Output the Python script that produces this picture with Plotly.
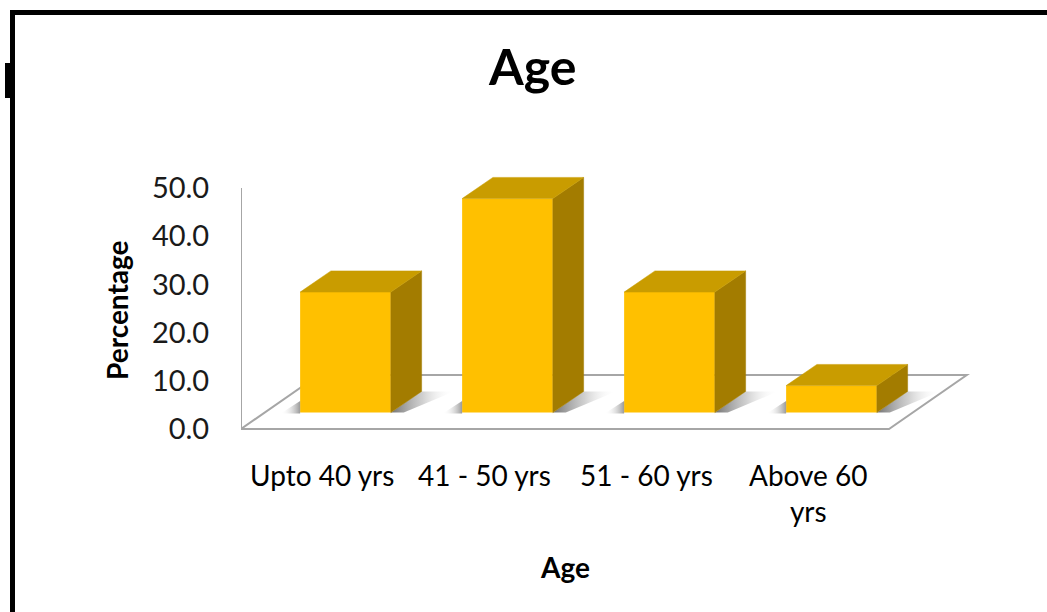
import plotly.graph_objects as go

# ---------------- data ----------------
categories = ["Upto 40 yrs", "41 - 50 yrs", "51 - 60 yrs", "Above 60 yrs"]
category_display = ["Upto 40 yrs", "41 - 50 yrs", "51 - 60 yrs", "Above 60<br>yrs"]
percentages = [25.0, 44.4, 25.0, 5.6]
y_tick_values = [0, 10, 20, 30, 40, 50]
y_tick_labels = [f"{v:.1f}" for v in y_tick_values]
chart_title = "Age"
x_title = "Age"
y_title = "Percentage"

# ---------------- styling / pseudo-3D geometry ----------------
FRONT = "#FFC000"
TOP = "#C99C00"
SIDE = "#A37C00"
FLOOR_LINE = "#A6A6A6"
FONT = "Lato"

W, H = 1047, 612
ML, MR, MT, MB = 241, 47, 150, 130
PW, PH = W - ML - MR, H - MT - MB
PX_PER_X = 162.0
PX_PER_Y = 4.82
x0_range = -0.5
x1_range = x0_range + PW / PX_PER_X
y0_range = (429 - (H - MB)) / PX_PER_Y
y1_range = (429 - MT) / PX_PER_Y

floor_dx, floor_dy = 0.48, 11.2     # floor depth
bar_dx, bar_dy = 0.19, 4.4          # bar depth
bar_base = 3.4                      # front face sits partway into the floor
bar_shift = 0.145
bar_width = 0.56
n = len(categories)

fig = go.Figure()

centers = [i + bar_shift for i in range(n)]

# front faces
fig.add_trace(go.Bar(x=centers, y=percentages, base=[bar_base] * n,
                     width=bar_width, marker=dict(color=FRONT, line=dict(width=0)),
                     hoverinfo="skip"))

# soft shadows on the floor (to the right of each bar's side face)
for c in centers:
    xl, xr = c - bar_width / 2, c + bar_width / 2
    sw = 0.2
    fig.add_trace(go.Scatter(
        x=[xr, xr + bar_dx, xr + bar_dx + sw, xr + sw * 0.4, xr],
        y=[bar_base, bar_base + bar_dy, bar_base + bar_dy, bar_base, bar_base],
        mode="lines", fill="toself", line=dict(width=0),
        fillgradient=dict(type="horizontal",
                          colorscale=[[0, "rgba(90,90,90,0.85)"],
                                      [0.5, "rgba(150,150,150,0.45)"],
                                      [1, "rgba(255,255,255,0)"]]),
        hoverinfo="skip"))
    fig.add_trace(go.Scatter(
        x=[xl - 0.12, xl, xl, xl - 0.12],
        y=[bar_base - 0.2, bar_base - 0.2, bar_base + 2.4, bar_base - 0.2],
        mode="lines", fill="toself", line=dict(width=0),
        fillgradient=dict(type="horizontal",
                          colorscale=[[0, "rgba(255,255,255,0)"],
                                      [1, "rgba(110,110,110,0.7)"]]),
        hoverinfo="skip"))

# side and top faces
for c, v in zip(centers, percentages):
    xl, xr = c - bar_width / 2, c + bar_width / 2
    top = bar_base + v
    fig.add_trace(go.Scatter(
        x=[xr, xr + bar_dx, xr + bar_dx, xr, xr],
        y=[bar_base, bar_base + bar_dy, top + bar_dy, top, bar_base],
        mode="lines", fill="toself", fillcolor=SIDE,
        line=dict(width=0.5, color=SIDE), hoverinfo="skip"))
    fig.add_trace(go.Scatter(
        x=[xl, xr, xr + bar_dx, xl + bar_dx, xl],
        y=[top, top, top + bar_dy, top + bar_dy, top],
        mode="lines", fill="toself", fillcolor=TOP,
        line=dict(width=0.5, color=TOP), hoverinfo="skip"))


def px_x(px):
    return (px - ML) / PW


def px_y(py):
    return (H - MB - py) / PH


floor_path = (f"M {-0.5},0 L {n - 0.5},0 L {n - 0.5 + floor_dx},{floor_dy} "
              f"L {-0.5 + floor_dx},{floor_dy} Z")

shapes = [
    dict(type="path", xref="x", yref="y", path=floor_path, layer="below",
         fillcolor="white", line=dict(color=FLOOR_LINE, width=2)),
    # value axis line
    dict(type="line", xref="x", yref="y", x0=-0.5, x1=-0.5, y0=0, y1=50,
         line=dict(color=FLOOR_LINE, width=2)),
    # outer frame (black border, top & left)
    dict(type="line", xref="paper", yref="paper", x0=px_x(10), x1=px_x(1047),
         y0=px_y(12.5), y1=px_y(12.5), line=dict(color="black", width=5)),
    dict(type="line", xref="paper", yref="paper", x0=px_x(12.5), x1=px_x(12.5),
         y0=px_y(10), y1=px_y(612), line=dict(color="black", width=5)),
    dict(type="rect", xref="paper", yref="paper", x0=px_x(5), x1=px_x(10),
         y0=px_y(98), y1=px_y(63), line=dict(width=0), fillcolor="black"),
]

annotations = [
    dict(text=f"<b>{chart_title}</b>", xref="paper", yref="paper",
         x=px_x(532), y=px_y(66), showarrow=False,
         font=dict(family=FONT, size=50, color="black"),
         xanchor="center", yanchor="middle"),
    dict(text=f"<b>{y_title}</b>", xref="paper", yref="paper",
         x=px_x(117), y=px_y(310), showarrow=False, textangle=-90,
         font=dict(family=FONT, size=28, color="black"),
         xanchor="center", yanchor="middle"),
    dict(text=f"<b>{x_title}</b>", xref="paper", yref="paper",
         x=px_x(565), y=px_y(567), showarrow=False,
         font=dict(family=FONT, size=28, color="black"),
         xanchor="center", yanchor="middle"),
]
for i, lab in enumerate(category_display):
    annotations.append(dict(text=lab, xref="x", yref="paper",
                            x=i, y=px_y(456), showarrow=False,
                            font=dict(family=FONT, size=28, color="black"),
                            xanchor="center", yanchor="top", align="center"))

fig.update_layout(
    width=W, height=H,
    margin=dict(l=ML, r=MR, t=MT, b=MB, pad=0),
    paper_bgcolor="white", plot_bgcolor="white",
    showlegend=False, hovermode=False,
    xaxis=dict(range=[x0_range, x1_range], visible=False, fixedrange=True),
    yaxis=dict(range=[y0_range, y1_range], tickvals=y_tick_values,
               ticktext=y_tick_labels, showgrid=False, zeroline=False,
               showline=False, ticks="outside", ticklen=25,
               tickcolor="rgba(0,0,0,0)",
               tickfont=dict(family=FONT, size=29, color="#1a1a1a"),
               fixedrange=True),
    shapes=shapes,
    annotations=annotations,
)

fig.write_html("out.html", config={"displayModeBar": False},
               post_script="document.body.style.margin='0';")
